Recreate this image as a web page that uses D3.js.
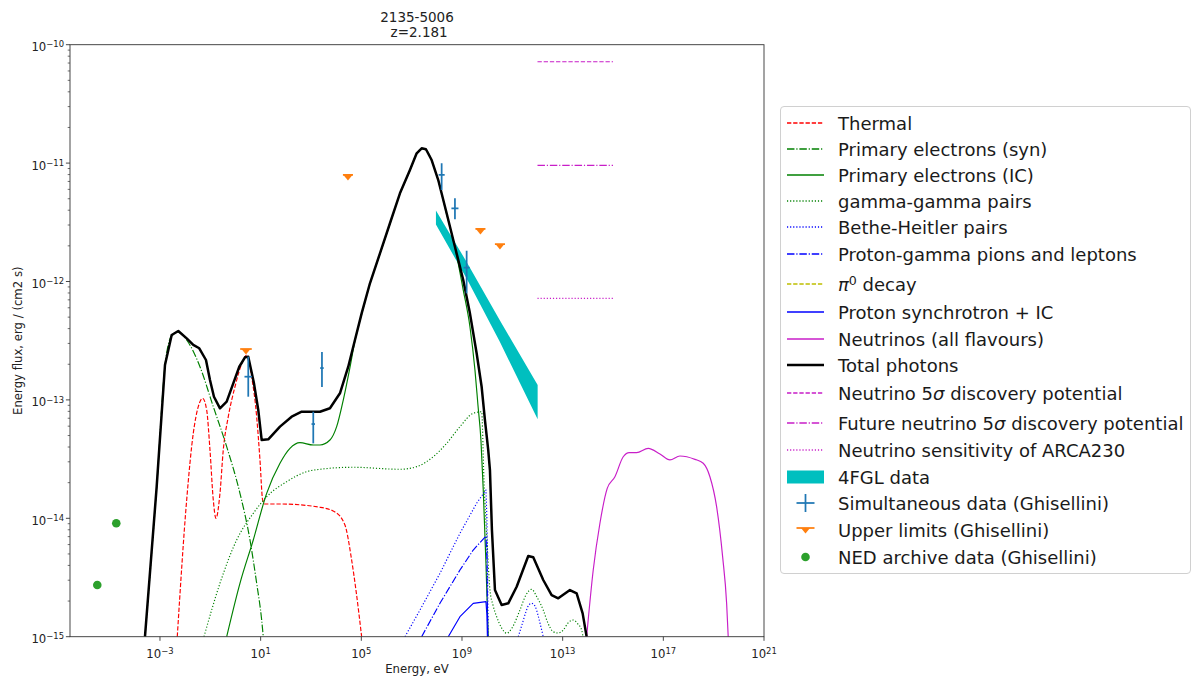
<!DOCTYPE html>
<html>
<head>
<meta charset="utf-8">
<script src="https://cdn.jsdelivr.net/npm/d3@7"></script>
<style>
  html, body { margin: 0; padding: 0; background: #fff; }
  svg { display: block; font-family: "DejaVu Sans", sans-serif; }
</style>
</head>
<body>
<svg id="chart" width="1193" height="679"></svg>
<script>
// ---------------- DATA (log10 energy [eV], log10 flux [erg/cm2/s]) ----------------
const titleLines = ["2135-5006", "\u00a0z=2.181"];
const xTickExps = [-3, 1, 5, 9, 13, 17, 21];
const yTickExps = [-15, -14, -13, -12, -11, -10];

const thermalLogE = [-2.313,-1.939,-1.677,-1.478,-1.304,-1.145,-1.013,-0.882,-0.775,-0.616,-0.485,-0.286,-0.020,0.309,0.445,0.643,0.842,0.973,1.080,1.172,1.768,3.357,3.953,4.350,4.616,4.787,5.013];
const thermalLogF = [-15.0,-13.845,-13.282,-13.057,-12.986,-13.085,-13.423,-13.845,-14.0,-13.789,-13.423,-13.142,-12.889,-12.663,-12.621,-12.804,-13.142,-13.507,-13.845,-13.879,-13.879,-13.907,-13.947,-14.057,-14.353,-14.606,-15.0];

const synLogE = [-3.596,-3.131,-2.801,-2.535,-2.273,-1.939,-1.411,-0.882,-0.350,0.178,0.576,0.842,1.041,1.104];
const synLogF = [-15.0,-13.735,-12.713,-12.46,-12.427,-12.494,-12.72,-13.057,-13.395,-13.789,-14.183,-14.549,-14.859,-15.0];

const icLogE = [-0.350,0.178,0.707,1.239,1.768,2.165,2.562,3.091,3.357,3.754,4.020,4.283,4.549,4.747,5.013,5.343,5.741,6.138,6.535,6.932,7.199,7.397,7.568,7.795,8.057,8.390,8.720,9.050,9.316,9.515,9.634,9.753,9.845,9.952,10.043];
const icLogF = [-15.0,-14.549,-14.183,-13.789,-13.535,-13.409,-13.361,-13.381,-13.381,-13.339,-13.226,-13.001,-12.725,-12.50,-12.275,-12.02,-11.767,-11.513,-11.26,-11.063,-10.922,-10.88,-10.888,-10.979,-11.148,-11.429,-11.711,-12.072,-12.382,-12.747,-13.043,-13.339,-13.761,-14.378,-15.0];

const ggLogE = [-1.252,-0.616,0.047,0.707,1.239,2.034,2.828,3.357,4.680,6.535,7.199,7.858,8.390,8.919,9.447,9.781,9.873,9.992,10.111,10.230,10.377,10.576,10.774,10.985,11.303,11.541,11.768,11.978,12.229,12.415,12.626,12.813,13.024,13.210,13.421,13.608,13.755,13.818];
const ggLogF = [-15.0,-14.549,-14.183,-13.958,-13.818,-13.691,-13.606,-13.586,-13.569,-13.586,-13.564,-13.480,-13.367,-13.226,-13.113,-13.100,-13.676,-14.183,-14.606,-14.732,-14.831,-14.927,-14.971,-14.927,-14.775,-14.648,-14.600,-14.665,-14.775,-14.885,-14.958,-14.969,-14.944,-14.885,-14.859,-14.893,-14.944,-15.01];

const bhLogE = [6.734,7.330,8.124,8.919,9.582,9.952,9.992,10.043];
const bhLogF = [-15.0,-14.775,-14.465,-14.127,-13.873,-13.761,-14.015,-15.0];
const bh2LogE = [11.235,11.382,11.541,11.660,11.768,11.899,12.018,12.137,12.229];
const bh2LogF = [-15.0,-14.90,-14.79,-14.73,-14.718,-14.74,-14.817,-14.918,-15.0];

const pgLogE = [7.397,8.124,8.919,9.447,9.952,9.992,10.019];
const pgLogF = [-15.0,-14.718,-14.437,-14.268,-14.150,-14.35,-15.0];

const psLogE = [8.454,8.919,9.447,9.952,9.992,10.01];
const psLogF = [-15.0,-14.831,-14.718,-14.704,-14.82,-15.0];

const nuLogE = [13.953,14.215,14.481,14.771,15.077,15.407,15.645,15.939,16.400,16.865,17.262,17.659,18.255,18.585,18.851,19.117,19.356,19.515,19.578];
const nuLogF = [-15.0,-14.437,-14.042,-13.747,-13.649,-13.480,-13.446,-13.446,-13.409,-13.457,-13.507,-13.474,-13.502,-13.535,-13.649,-13.902,-14.324,-14.718,-15.0];

const totalLogE = [-3.596,-3.131,-2.801,-2.535,-2.273,-1.939,-1.677,-1.439,-1.172,-1.013,-0.855,-0.616,-0.350,-0.088,0.151,0.377,0.508,0.735,0.905,1.041,1.303,1.768,2.232,2.630,3.091,3.357,3.754,4.151,4.481,4.747,5.013,5.343,5.741,6.138,6.535,6.932,7.199,7.397,7.568,7.795,8.057,8.390,8.720,9.050,9.316,9.582,9.781,9.912,10.043,10.111,10.19,10.31,10.576,10.838,11.172,11.633,11.832,12.229,12.562,12.825,13.289,13.556,13.794,13.953];
const totalLogF = [-15.0,-13.733,-12.705,-12.452,-12.418,-12.48,-12.536,-12.564,-12.663,-12.832,-12.973,-13.071,-13.015,-12.860,-12.720,-12.640,-12.635,-12.860,-13.085,-13.339,-13.333,-13.226,-13.142,-13.100,-13.100,-13.100,-13.071,-12.944,-12.720,-12.494,-12.269,-12.015,-11.762,-11.508,-11.255,-11.058,-10.917,-10.875,-10.883,-10.974,-11.143,-11.424,-11.706,-11.987,-12.269,-12.606,-12.889,-13.170,-13.424,-13.593,-14.1,-14.606,-14.732,-14.718,-14.578,-14.318,-14.329,-14.521,-14.648,-14.676,-14.606,-14.634,-14.803,-15.0];

// neutrino sensitivity lines (log E range, log F level)
const sensLogE = [12.0, 15.0];
const disc5LogF = -10.144;
const future5LogF = -11.019;
const arcaLogF = -12.142;

// 4FGL butterfly
const fglLogE = [7.965, 9.185, 10.508, 12.006];
const fglUpLogF = [-11.400, -11.835, -12.329, -12.874];
const fglLoLogF = [-11.519, -11.975, -12.511, -13.164];

// Simultaneous data (Ghisellini)
const simLogE = [0.508, 3.091, 3.436, 8.192, 8.720, 9.185];
const simLogF = [-12.804, -13.204, -12.731, -11.100, -11.382, -11.883];
const simLogFhi = [-12.635, -13.100, -12.595, -11.002, -11.297, -11.740];
const simLogFlo = [-12.973, -13.367, -12.891, -11.227, -11.475, -12.100];
const simLogEerr = [0.15, 0.07, 0.07, 0.12, 0.14, 0.12];

// Upper limits (Ghisellini)
const ulLogE = [0.417, 4.469, 9.733, 10.508];
const ulLogF = [-12.587, -11.117, -11.573, -11.701];
const ulLogEerr = [0.23, 0.2, 0.2, 0.2];

// NED archive data
const nedLogE = [-5.491, -4.736];
const nedLogF = [-14.563, -14.042];

// ---------------- LAYOUT ----------------
const P = 10;
const svg = d3.select("#chart");
const L = 70, R = 764, T = 44.7, B = 636.7;
const x = d3.scaleLog().domain([Math.pow(P, -6.575), 1e21]).range([L, R]);
const y = d3.scaleLog().domain([1e-15, 1e-10]).range([B, T]);
const X = e => x(Math.pow(P, e));
const Y = f => y(Math.pow(P, f));
const k = 84 / 72; // pt -> px

const C = {
  red: "#ff0000", green: "#008000", blue: "#0000ff", mag: "#c81ec8",
  olive: "#bfbf00", black: "#000000", cyan: "#00bfbf",
  tabBlue: "#1f77b4", tabOrange: "#ff7f0e", tabGreen: "#2ca02c"
};
const dash = {
  solid: null,
  dashed: [3.7*k, 1.6*k].join(","),
  dashdot: [6.4*k, 1.6*k, 1*k, 1.6*k].join(","),
  dotted: [1*k, 1.65*k].join(",")
};

svg.append("defs").append("clipPath").attr("id", "clip")
  .append("rect").attr("x", L).attr("y", T).attr("width", R - L).attr("height", B - T);

const plot = svg.append("g").attr("clip-path", "url(#clip)");

function zip(es, fs) { return es.map((e, i) => [e, fs[i]]); }
const lineGen = d3.line().x(d => X(d[0])).y(d => Y(d[1]));
const smoothGen = d3.line().x(d => X(d[0])).y(d => Y(d[1])).curve(d3.curveMonotoneX);

function drawLine(es, fs, color, style, width, smooth) {
  plot.append("path")
    .datum(zip(es, fs))
    .attr("d", smooth ? smoothGen : lineGen)
    .attr("fill", "none")
    .attr("stroke", color)
    .attr("stroke-width", width)
    .attr("stroke-dasharray", dash[style])
    .attr("stroke-linejoin", "round");
}

// 4FGL band
const bandPts = fglLogE.map((e, i) => [X(e), Y(fglUpLogF[i])])
  .concat(fglLogE.map((e, i) => [X(e), Y(fglLoLogF[i])]).reverse());
plot.append("path").attr("d", "M" + bandPts.map(p => p.join(",")).join("L") + "Z")
  .attr("fill", C.cyan).attr("stroke", "none");

drawLine(thermalLogE, thermalLogF, C.red, "dashed", 1.17, true);
drawLine(synLogE, synLogF, C.green, "dashdot", 1.17, true);
drawLine(icLogE, icLogF, C.green, "solid", 1.17, true);
drawLine(ggLogE, ggLogF, C.green, "dotted", 1.17, true);
drawLine(bhLogE, bhLogF, C.blue, "dotted", 1.17, false);
drawLine(bh2LogE, bh2LogF, C.blue, "dotted", 1.17, true);
drawLine(pgLogE, pgLogF, C.blue, "dashdot", 1.17, false);
drawLine(psLogE, psLogF, C.blue, "solid", 1.17, false);
drawLine(nuLogE, nuLogF, C.mag, "solid", 1.17, true);
drawLine(totalLogE, totalLogF, C.black, "solid", 2.5, false);

drawLine(sensLogE, [disc5LogF, disc5LogF], C.mag, "dashed", 1.17, false);
drawLine(sensLogE, [future5LogF, future5LogF], C.mag, "dashdot", 1.17, false);
drawLine(sensLogE, [arcaLogF, arcaLogF], C.mag, "dotted", 1.17, false);

// Simultaneous data
simLogE.forEach((e, i) => {
  const g = plot.append("g").attr("stroke", C.tabBlue).attr("stroke-width", 1.75);
  g.append("line").attr("x1", X(e)).attr("x2", X(e)).attr("y1", Y(simLogFhi[i])).attr("y2", Y(simLogFlo[i]));
  g.append("line").attr("x1", X(e - simLogEerr[i])).attr("x2", X(e + simLogEerr[i])).attr("y1", Y(simLogF[i])).attr("y2", Y(simLogF[i]));
});

// Upper limits
function ulMarker(g, cx, cy, hw) {
  g.append("line").attr("x1", cx - hw).attr("x2", cx + hw).attr("y1", cy).attr("y2", cy)
    .attr("stroke", C.tabOrange).attr("stroke-width", 1.75);
  g.append("path").attr("d", `M${cx-4.5},${cy} L${cx+4.5},${cy} L${cx},${cy+5.5} Z`).attr("fill", C.tabOrange);
}
ulLogE.forEach((e, i) => {
  const cx = X(e), cy = Y(ulLogF[i]);
  ulMarker(plot, cx, cy - 2, X(e + ulLogEerr[i]) - cx);
});

// NED
nedLogE.forEach((e, i) => {
  plot.append("circle").attr("cx", X(e)).attr("cy", Y(nedLogF[i])).attr("r", 4.3).attr("fill", C.tabGreen);
});

// ---------------- AXES ----------------
const axisColor = "#333";
const FS = 11.7;
svg.append("rect").attr("x", L).attr("y", T).attr("width", R - L).attr("height", B - T)
  .attr("fill", "none").attr("stroke", axisColor).attr("stroke-width", 0.9);

function supLabel(sel, exp, anchor) {
  sel.append("tspan").text("10");
  sel.append("tspan").attr("dy", "-0.45em").attr("font-size", FS * 0.72).text(exp < 0 ? "\u2212" + (-exp) : String(exp));
  sel.attr("text-anchor", anchor);
}

const gx = svg.append("g");
xTickExps.forEach(e => {
  const px = X(e);
  gx.append("line").attr("x1", px).attr("x2", px).attr("y1", B).attr("y2", B + 4.1).attr("stroke", axisColor).attr("stroke-width", 0.9);
  const t = gx.append("text").attr("x", px).attr("y", B + 21.5).attr("font-size", FS).attr("fill", "#222");
  supLabel(t, e, "middle");
});

const gy = svg.append("g");
yTickExps.forEach(e => {
  const py = Y(e);
  gy.append("line").attr("x1", L - 4.1).attr("x2", L).attr("y1", py).attr("y2", py).attr("stroke", axisColor).attr("stroke-width", 0.9);
  const t = gy.append("text").attr("x", L - 6).attr("y", py + 6.5).attr("font-size", FS).attr("fill", "#222");
  supLabel(t, e, "end");
  if (e < -10) {
    for (let m = 2; m <= 9; m++) {
      const my = y(m * Math.pow(P, e));
      gy.append("line").attr("x1", L - 2.3).attr("x2", L).attr("y1", my).attr("y2", my).attr("stroke", axisColor).attr("stroke-width", 0.7);
    }
  }
});

svg.append("text").attr("x", (L + R) / 2).attr("y", 673).attr("text-anchor", "middle")
  .attr("font-size", FS).attr("fill", "#222").text("Energy, eV");
svg.append("text").attr("transform", `translate(21.5,${(T + B) / 2}) rotate(-90)`).attr("text-anchor", "middle")
  .attr("font-size", FS).attr("fill", "#222").text("Energy flux, erg / (cm2 s)");

titleLines.forEach((s, i) => {
  svg.append("text").attr("x", (L + R) / 2).attr("y", 22 + i * 14.5).attr("text-anchor", "middle")
    .attr("font-size", 13.5).attr("fill", "#222").text(s);
});

// ---------------- LEGEND ----------------
const legendItems = [
  { label: "Thermal", kind: "line", color: C.red, style: "dashed" },
  { label: "Primary electrons (syn)", kind: "line", color: C.green, style: "dashdot" },
  { label: "Primary electrons (IC)", kind: "line", color: C.green, style: "solid" },
  { label: "gamma-gamma pairs", kind: "line", color: C.green, style: "dotted" },
  { label: "Bethe-Heitler pairs", kind: "line", color: C.blue, style: "dotted" },
  { label: "Proton-gamma pions and leptons", kind: "line", color: C.blue, style: "dashdot" },
  { label: "pi0", kind: "line", color: C.olive, style: "dashed" },
  { label: "Proton synchrotron + IC", kind: "line", color: C.blue, style: "solid" },
  { label: "Neutrinos (all flavours)", kind: "line", color: C.mag, style: "solid" },
  { label: "Total photons", kind: "line", color: C.black, style: "solid", width: 2.5 },
  { label: "sigma:Neutrino 5||\u00a0discovery potential", kind: "line", color: C.mag, style: "dashed" },
  { label: "sigma:Future neutrino 5||\u00a0discovery potential", kind: "line", color: C.mag, style: "dashdot" },
  { label: "Neutrino sensitivity of ARCA230", kind: "line", color: C.mag, style: "dotted" },
  { label: "4FGL data", kind: "band" },
  { label: "Simultaneous data (Ghisellini)", kind: "sim" },
  { label: "Upper limits (Ghisellini)", kind: "ul" },
  { label: "NED archive data (Ghisellini)", kind: "ned" }
];
const legendRowY = [123, 149, 175, 201, 227, 254, 284, 312, 339, 365, 393, 423, 450, 477, 503, 530, 557];
const LFS = 18;
const lg = svg.append("g");
lg.append("rect").attr("x", 780.5).attr("y", 106.5).attr("width", 410).attr("height", 467).attr("rx", 3.5)
  .attr("fill", "#fff").attr("fill-opacity", 0.8).attr("stroke", "#d0d0d0").attr("stroke-width", 1);
const hx0 = 787, hx1 = 824, tx = 838;
legendItems.forEach((it, i) => {
  const cy = legendRowY[i];
  if (it.kind === "line") {
    lg.append("line").attr("x1", hx0).attr("x2", hx1).attr("y1", cy).attr("y2", cy)
      .attr("stroke", it.color).attr("stroke-width", it.width || 1.3).attr("stroke-dasharray", dash[it.style]);
  } else if (it.kind === "band") {
    lg.append("rect").attr("x", hx0).attr("y", cy - 6.5).attr("width", hx1 - hx0).attr("height", 13).attr("fill", C.cyan);
  } else if (it.kind === "sim") {
    const cx = (hx0 + hx1) / 2;
    lg.append("line").attr("x1", cx).attr("x2", cx).attr("y1", cy - 9).attr("y2", cy + 9).attr("stroke", C.tabBlue).attr("stroke-width", 1.75);
    lg.append("line").attr("x1", cx - 9).attr("x2", cx + 9).attr("y1", cy).attr("y2", cy).attr("stroke", C.tabBlue).attr("stroke-width", 1.75);
  } else if (it.kind === "ul") {
    ulMarker(lg, (hx0 + hx1) / 2, cy - 2, 9);
  } else if (it.kind === "ned") {
    lg.append("circle").attr("cx", (hx0 + hx1) / 2).attr("cy", cy).attr("r", 4.3).attr("fill", C.tabGreen);
  }
  const t = lg.append("text").attr("x", tx).attr("y", cy + 6.5).attr("font-size", LFS).attr("fill", "#1a1a1a");
  if (it.label === "pi0") {
    t.append("tspan").attr("font-style", "italic").text("\u03c0");
    t.append("tspan").attr("dy", "-0.42em").attr("font-size", LFS * 0.7).text("0");
    t.append("tspan").attr("dy", "0.3em").text(" decay");
  } else if (it.label.startsWith("sigma:")) {
    const parts = it.label.slice(6).split("||");
    t.append("tspan").text(parts[0]);
    t.append("tspan").attr("font-style", "italic").text("\u03c3");
    t.append("tspan").text(parts[1]);
  } else {
    t.text(it.label);
  }
});
</script>
</body>
</html>
